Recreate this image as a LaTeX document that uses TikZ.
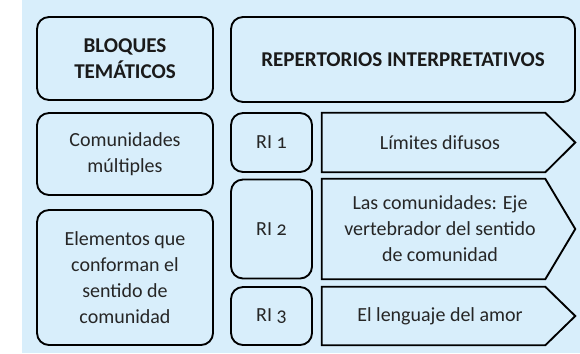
\documentclass[tikz,border=0pt]{standalone}
\usepackage{fontspec}
\setmainfont[Numbers=OldStyle]{Carlito}
\usepackage{tikz}
\usetikzlibrary{calc}
\definecolor{panelblue}{HTML}{D8EEFB}
\definecolor{textgray}{HTML}{262626}
\definecolor{titleblack}{HTML}{1A1A1A}

\tikzset{
  block/.style={draw=black,line width=1.4pt,fill=panelblue,rounded corners=9pt,
    align=center,text=textgray,font=\fontsize{15}{19.5}\selectfont,inner sep=2pt},
  title/.style={block,text=titleblack,font=\fontsize{15.8}{19}\selectfont\bfseries},
  chevron/.style={align=center,text=textgray,font=\fontsize{15}{19.5}\selectfont,
    minimum width=177pt,inner sep=2pt}
}

\begin{document}
\begin{tikzpicture}[x=0.75pt,y=-0.75pt]

\useasboundingbox (0,0) rectangle (580,353);
\fill[panelblue] (22,0) rectangle (580,353);

% left column
\node[title,minimum width=132pt,minimum height=62.25pt] (bloques) at (125,58.5)
  {BLOQUES\\TEMÁTICOS};
\node[block,minimum width=132pt,minimum height=61.5pt] (comun) at (125,154)
  {Comunidades\\múltiples};
\node[block,minimum width=132pt,minimum height=101.25pt] (elem) at (125,277.5)
  {Elementos que\\conforman el\\sentido de\\comunidad};

% right column
\node[title,minimum width=258pt,minimum height=63.75pt] (repert) at (403,59.5)
  {REPERTORIOS INTERPRETATIVOS};
\node[block,minimum width=60.75pt,minimum height=44.25pt] (ri1) at (271.5,142.5) {RI 1};
\node[block,minimum width=60.75pt,minimum height=74.25pt] (ri2) at (271.5,229) {RI 2};
\node[block,minimum width=60.75pt,minimum height=43.5pt] (ri3) at (271.5,316) {RI 3};

\node[chevron,minimum height=44.25pt] (limites) at (440,142.5) {Límites difusos};
\node[chevron,minimum height=75pt] (eje) at (440,229)
  {Las comunidades: Eje\\vertebrador del sentido\\de comunidad};
\node[chevron,minimum height=43.5pt] (amor) at (440,316) {El lenguaje del amor};

% arrow outlines round the text nodes
\foreach \n in {limites,eje,amor}
  \draw[line width=1.4pt,line join=miter]
    (\n.north west) -- ($(\n.north east)+(-13,0)$) -- ($(\n.east)+(17,0)$)
    -- ($(\n.south east)+(-13,0)$) -- (\n.south west) -- cycle;

\end{tikzpicture}
\end{document}
